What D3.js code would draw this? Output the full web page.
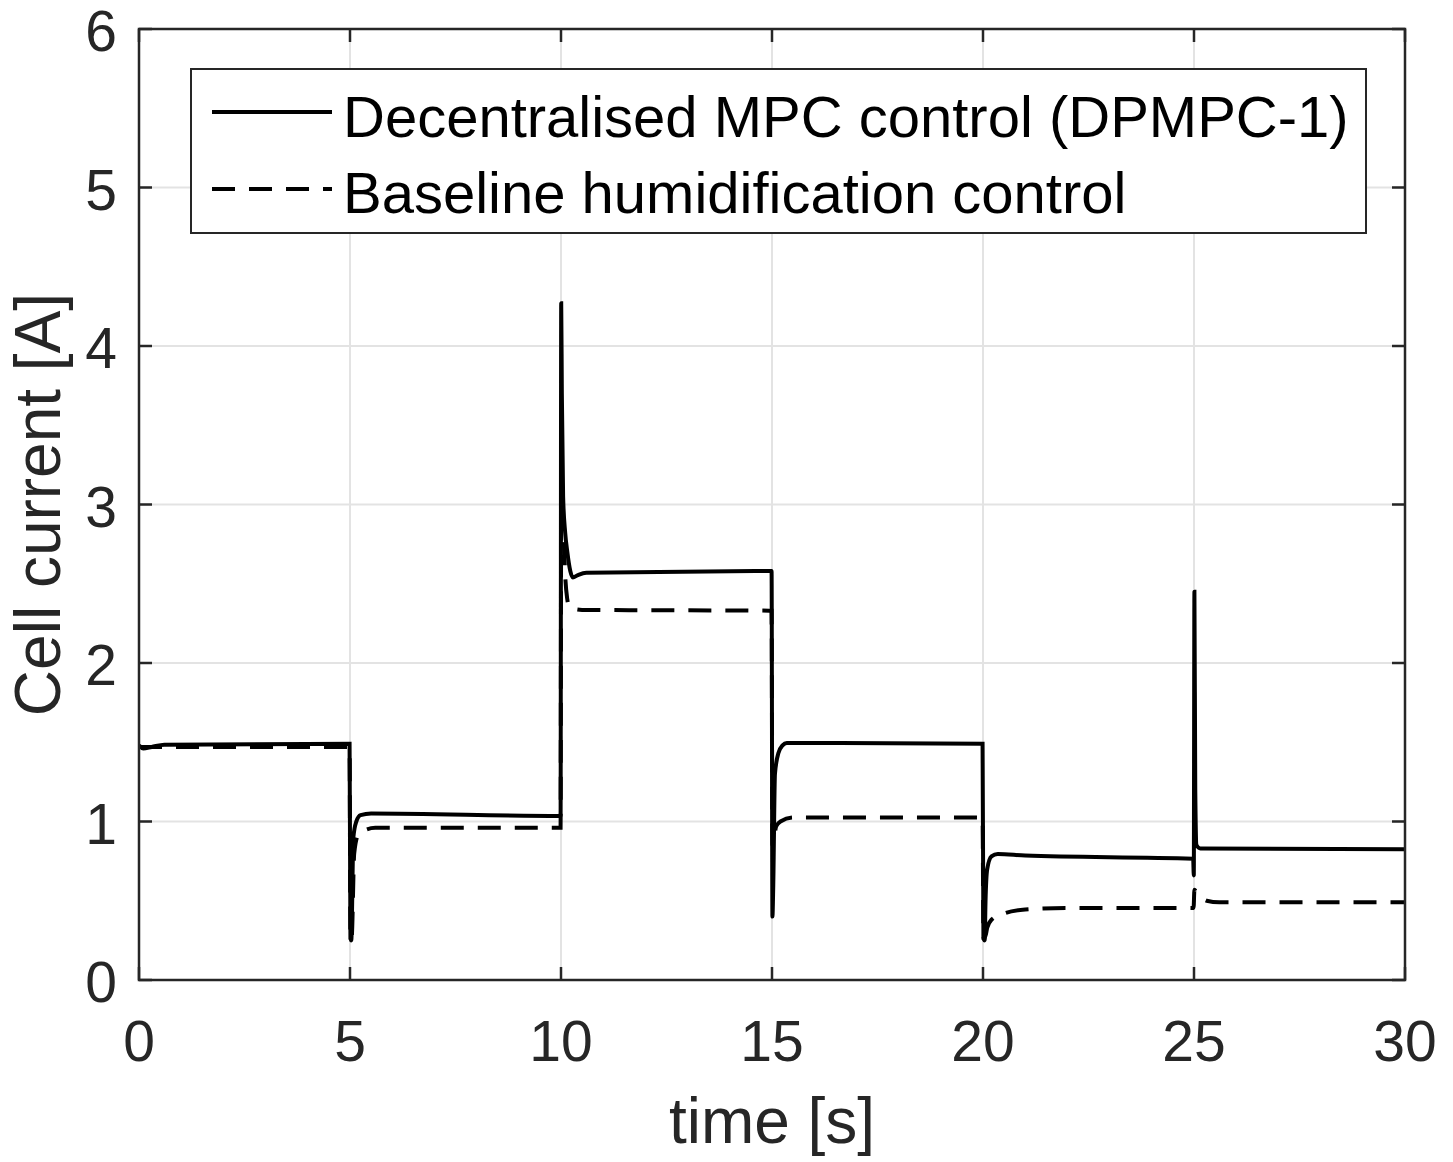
<!DOCTYPE html>
<html>
<head>
<meta charset="utf-8">
<script src="https://cdn.jsdelivr.net/npm/d3@7"></script>
<style>
  body { margin: 0; background: #fff; }
  text { font-family: "Liberation Sans", Arial, sans-serif; }
</style>
</head>
<body>
<div id="chart"></div>
<script>
// values
const mpcTime = [0, 0.1, 0.3, 0.6, 4.99, 5.01, 5.03, 5.08, 5.15, 5.25, 5.5, 9.99,
  10.005, 10.02, 10.05, 10.1, 10.15, 10.22, 10.28, 10.4, 10.6, 14.99,
  15.01, 15.03, 15.07, 15.15, 15.25, 15.35, 15.6, 19.99,
  20.01, 20.04, 20.06, 20.1, 20.2, 20.35, 21, 24.98,
  24.995, 25.01, 25.03, 25.06, 25.15, 30];
const mpcCurrent = [1.48, 1.46, 1.47, 1.485, 1.49, 0.26, 0.25, 0.9, 1.0, 1.04, 1.05, 1.035,
  4.27, 3.7, 3.05, 2.82, 2.7, 2.58, 2.54, 2.555, 2.57, 2.58,
  0.40, 0.6, 1.3, 1.43, 1.48, 1.495, 1.495, 1.49,
  0.26, 0.25, 0.5, 0.7, 0.78, 0.795, 0.785, 0.765,
  0.66, 2.45, 1.2, 0.85, 0.83, 0.825];

const baseTime = [0, 4.99, 5.01, 5.04, 5.1, 5.2, 5.35, 5.6, 9.99,
  10.005, 10.04, 10.07, 10.1, 10.15, 10.2, 10.5, 14.99,
  15.01, 15.05, 15.1, 15.2, 15.5, 19.99,
  20.01, 20.05, 20.1, 20.2, 20.5, 21, 22, 24.99,
  25.01, 25.05, 25.1, 25.3, 25.6, 30];
const baseCurrent = [1.47, 1.47, 0.26, 0.27, 0.8, 0.92, 0.945, 0.96, 0.96,
  3.0, 2.9, 2.75, 2.55, 2.4, 2.35, 2.335, 2.33,
  0.85, 0.9, 0.97, 1.0, 1.025, 1.025,
  0.27, 0.27, 0.33, 0.38, 0.42, 0.445, 0.455, 0.455,
  0.57, 0.56, 0.545, 0.5, 0.49, 0.49];

const xTicks = [0, 5, 10, 15, 20, 25, 30];
const yTicks = [0, 1, 2, 3, 4, 5, 6];
const legendLabels = ["Decentralised MPC control (DPMPC-1)", "Baseline humidification control"];

const W = 1453, H = 1162;
const m = {left: 139, right: 1405, top: 29, bottom: 980};
const axisColor = "#262626";

const svg = d3.select("#chart").append("svg")
  .attr("width", W).attr("height", H);

const x = d3.scaleLinear().domain([0, 30]).range([m.left, m.right]);
const y = d3.scaleLinear().domain([0, 6]).range([m.bottom, m.top]);

// grid
svg.append("g").selectAll("line.gx")
  .data(xTicks.slice(1, -1)).enter().append("line")
  .attr("x1", d => x(d)).attr("x2", d => x(d))
  .attr("y1", m.top).attr("y2", m.bottom)
  .attr("stroke", "#e3e3e3").attr("stroke-width", 2);
svg.append("g").selectAll("line.gy")
  .data(yTicks.slice(1, -1)).enter().append("line")
  .attr("x1", m.left).attr("x2", m.right)
  .attr("y1", d => y(d)).attr("y2", d => y(d))
  .attr("stroke", "#e3e3e3").attr("stroke-width", 2);

// lines
const line = d3.line()
  .x(d => x(d[0])).y(d => y(d[1]))
  .curve(d3.curveMonotoneX);

svg.append("clipPath").attr("id", "clip")
  .append("rect").attr("x", m.left).attr("y", m.top)
  .attr("width", m.right - m.left).attr("height", m.bottom - m.top);

const plot = svg.append("g").attr("clip-path", "url(#clip)");

plot.append("path")
  .datum(baseTime.map((t, i) => [t, baseCurrent[i]]))
  .attr("d", line)
  .attr("fill", "none").attr("stroke", "#000")
  .attr("stroke-width", 4).attr("stroke-dasharray", "23,14");

plot.append("path")
  .datum(mpcTime.map((t, i) => [t, mpcCurrent[i]]))
  .attr("d", line)
  .attr("fill", "none").attr("stroke", "#000")
  .attr("stroke-width", 4);

// axes (box with inward ticks on all sides)
const tickLen = 13;
const axes = svg.append("g");
axes.append("rect")
  .attr("x", m.left).attr("y", m.top)
  .attr("width", m.right - m.left).attr("height", m.bottom - m.top)
  .attr("fill", "none").attr("stroke", axisColor).attr("stroke-width", 2.5);

xTicks.forEach(t => {
  axes.append("line").attr("x1", x(t)).attr("x2", x(t))
    .attr("y1", m.bottom).attr("y2", m.bottom - tickLen)
    .attr("stroke", axisColor).attr("stroke-width", 2.5);
  axes.append("line").attr("x1", x(t)).attr("x2", x(t))
    .attr("y1", m.top).attr("y2", m.top + tickLen)
    .attr("stroke", axisColor).attr("stroke-width", 2.5);
  axes.append("text").attr("x", x(t)).attr("y", 1061)
    .attr("text-anchor", "middle").attr("font-size", 57)
    .attr("fill", axisColor).text(t);
});
yTicks.forEach(v => {
  axes.append("line").attr("x1", m.left).attr("x2", m.left + tickLen)
    .attr("y1", y(v)).attr("y2", y(v))
    .attr("stroke", axisColor).attr("stroke-width", 2.5);
  axes.append("line").attr("x1", m.right).attr("x2", m.right - tickLen)
    .attr("y1", y(v)).attr("y2", y(v))
    .attr("stroke", axisColor).attr("stroke-width", 2.5);
  axes.append("text").attr("x", 117).attr("y", y(v) + 22)
    .attr("text-anchor", "end").attr("font-size", 57)
    .attr("fill", axisColor).text(v);
});

// axis labels
svg.append("text")
  .attr("x", (m.left + m.right) / 2).attr("y", 1143)
  .attr("text-anchor", "middle").attr("font-size", 64)
  .attr("fill", axisColor).text("time [s]");
svg.append("text")
  .attr("transform", `translate(60,${(m.top + m.bottom) / 2}) rotate(-90)`)
  .attr("text-anchor", "middle").attr("font-size", 64)
  .attr("fill", axisColor).text("Cell current [A]");

// legend
const lg = svg.append("g");
lg.append("rect").attr("x", 191).attr("y", 69)
  .attr("width", 1366 - 191).attr("height", 233 - 69)
  .attr("fill", "#fff").attr("stroke", axisColor).attr("stroke-width", 2);
const rows = [{y: 112, base: 137, dash: null}, {y: 189, base: 213, dash: "23,14"}];
rows.forEach((r, i) => {
  lg.append("line").attr("x1", 212).attr("x2", 332)
    .attr("y1", r.y).attr("y2", r.y)
    .attr("stroke", "#000").attr("stroke-width", 4)
    .attr("stroke-dasharray", r.dash);
  lg.append("text").attr("x", 343).attr("y", r.base)
    .attr("font-size", 58).attr("fill", "#000").text(legendLabels[i]);
});
</script>
</body>
</html>
